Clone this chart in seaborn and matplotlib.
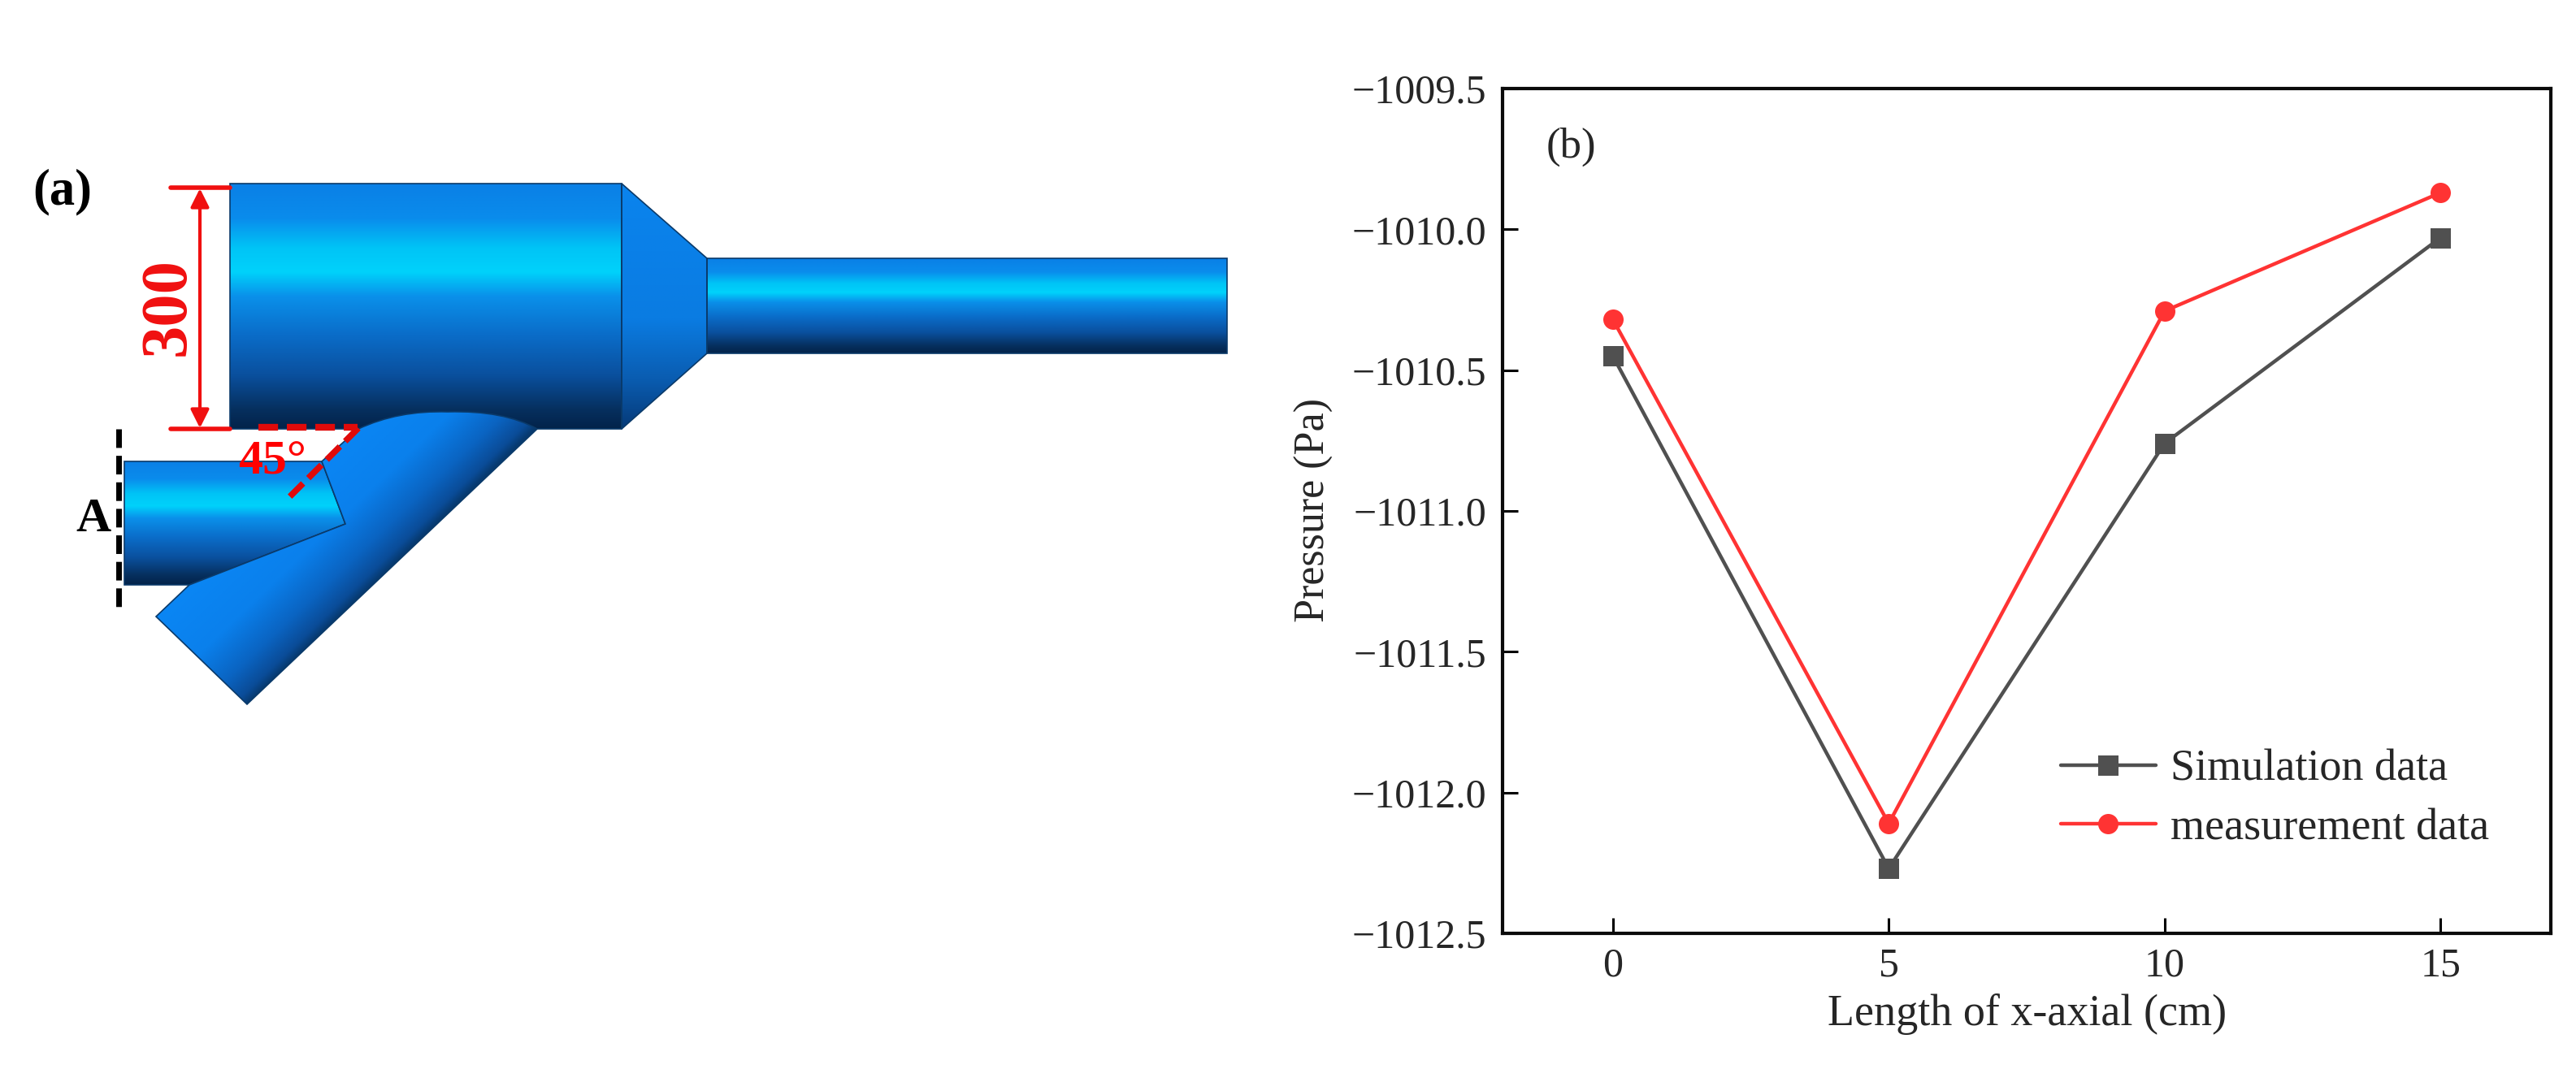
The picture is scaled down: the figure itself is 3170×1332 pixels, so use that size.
import numpy as np
import pandas as pd
import matplotlib
matplotlib.use("Agg")
import matplotlib.pyplot as plt
from matplotlib.colors import LinearSegmentedColormap
from matplotlib.patches import Polygon
from matplotlib.path import Path
from matplotlib.patches import PathPatch
import seaborn as sns

# ---------- data ----------
x_cm = [0, 5, 10, 15]
simulation = [-1010.45, -1012.27, -1010.76, -1010.03]
measurement = [-1010.32, -1012.11, -1010.29, -1009.87]
y_ticks = [-1009.5, -1010.0, -1010.5, -1011.0, -1011.5, -1012.0, -1012.5]
x_ticks = [0, 5, 10, 15]
series_names = ["Simulation data", "measurement data"]

W, H = 3170, 1332
sns.set_theme(style="ticks")
plt.rcParams['font.family'] = ['Liberation Serif', 'DejaVu Serif']
plt.rcParams['axes.unicode_minus'] = True

fig = plt.figure(figsize=(W / 100, H / 100), dpi=100, facecolor="white")

# ---------- panel (a): schematic in pixel space ----------
bg = fig.add_axes([0, 0, 1, 1])
bg.set_xlim(0, W)
bg.set_ylim(H, 0)
bg.axis("off")

cyl = LinearSegmentedColormap.from_list("cyl", [
    (0.00, "#0a80e6"), (0.14, "#0a8cec"), (0.26, "#00c4f6"), (0.36, "#00d2fb"),
    (0.46, "#0a90ea"), (0.62, "#0a6cc8"), (0.78, "#0a509e"), (0.92, "#06305f"),
    (1.00, "#03234a")])


def vgrad(verts, y0, y1, cmap=cyl, edge="#0a3a6a", z=2):
    x = [v[0] for v in verts]
    g = np.linspace(0, 1, 256)[:, None]
    im = bg.imshow(g, extent=(min(x), max(x), y1, y0), cmap=cmap, aspect="auto", zorder=z,
                   interpolation="bilinear")
    p = Polygon(verts, closed=True, transform=bg.transData, fc="none", ec=edge, lw=1.2, zorder=z + 0.1)
    bg.add_patch(p)
    im.set_clip_path(p)


# outlet tube, large cylinder, cone
vgrad([(870, 318), (1510, 318), (1510, 435), (870, 435)], 318, 435)
vgrad([(283, 226), (765, 226), (765, 528), (283, 528)], 226, 528)
cone = LinearSegmentedColormap.from_list("cone", [
    (0, "#0a84ee"), (0.55, "#0a7ce2"), (0.8, "#0a5cb0"), (1, "#063a78")])
vgrad([(765, 226), (870, 318), (870, 435), (765, 528)], 226, 528, cmap=cone)

# inlet tube
vgrad([(153, 568), (396, 568), (425, 645), (233, 720), (153, 720)], 568, 720, z=3)

# slanted pipe with a rounded shoulder
codes = [Path.MOVETO, Path.LINETO, Path.LINETO, Path.CURVE3, Path.CURVE3, Path.CURVE3, Path.CURVE3,
         Path.LINETO, Path.LINETO, Path.LINETO, Path.CLOSEPOLY]
pts = [(192, 759), (304, 867), (661, 528), (620, 505), (551, 507), (490, 505), (441, 528),
       (396, 568), (425, 645), (233, 720), (192, 759)]
pipe_path = Path(pts, codes)
pipe_cm = LinearSegmentedColormap.from_list("pipe", [
    (0, "#0a86f4"), (0.45, "#0a80ec"), (0.75, "#0a64c2"), (0.93, "#0a4c98"), (1, "#073a70")])
xx, yy = np.meshgrid(np.linspace(190, 665, 300), np.linspace(500, 870, 300))
d = ((xx - 192) * 0.69 + (yy - 759) * 0.72) / 155
pim = bg.imshow(d, extent=(190, 665, 870, 500), origin="upper", cmap=pipe_cm, vmin=0, vmax=1,
                aspect="auto", zorder=4, interpolation="bilinear")
pp = PathPatch(pipe_path, transform=bg.transData, fc="none", ec="#0a3a6a", lw=1.2, zorder=4.1)
bg.add_patch(pp)
pim.set_clip_path(pp)
bg.set_xlim(0, W)
bg.set_ylim(H, 0)

# annotations
RED = "#f01010"
bg.plot([210, 283], [231, 231], color=RED, lw=4, zorder=6)
bg.plot([210, 283], [528, 528], color=RED, lw=4, zorder=6)
bg.annotate("", xy=(246, 232), xytext=(246, 527), zorder=6,
            arrowprops=dict(arrowstyle="<|-|>", color=RED, lw=3, mutation_scale=34, shrinkA=0, shrinkB=0))
bg.text(207, 378, "300", color=RED, fontsize=58, fontweight="bold", rotation=90, ha="center", va="center", zorder=6)
bg.plot([318, 440], [526, 526], color="#e00a0a", lw=6, ls=(0, (2.9, 1.3)), zorder=6)
bg.plot([441, 354], [527, 614], color="#e00a0a", lw=5.5, ls=(0, (3.0, 1.2)), zorder=6)
bg.text(335, 570, "45°", color="#ff0000", fontsize=43, fontweight="bold", ha="center", va="center", zorder=6)
bg.plot([146, 146], [528, 747], color="black", lw=5, ls=(0, (3.3, 1.4)), zorder=6)
bg.text(115, 640, "A", color="black", fontsize=43, fontweight="bold", ha="center", va="center", zorder=6)
bg.text(77, 236, "(a)", color="black", fontsize=45, fontweight="bold", ha="center", va="center", zorder=6)

# ---------- panel (b): line chart ----------
L, R, T, B = 1849, 3139, 109, 1149
ax = fig.add_axes([L / W, 1 - B / H, (R - L) / W, (B - T) / H], facecolor="white")
df = pd.DataFrame({"x": x_cm * 2, "y": simulation + measurement,
                   "series": [series_names[0]] * 4 + [series_names[1]] * 4})
sns.lineplot(data=df, x="x", y="y", hue="series", style="series", ax=ax,
             palette=["#505050", "#ff3333"], dashes=False, markers=["s", "o"],
             markersize=18, linewidth=3.2, markeredgewidth=0, legend="full")
ax.set_xlim(-2, 17)
ax.set_ylim(-1012.5, -1009.5)
ax.set_xticks(x_ticks)
ax.set_yticks(y_ticks)
ax.set_yticklabels([f"\u2212{abs(v):.1f}" for v in y_ticks])
ax.tick_params(axis="both", labelsize=36, length=14, width=2.2, color="black", direction="in")
ax.tick_params(axis="x", pad=12)
ax.tick_params(axis="y", pad=14)
for s in ax.spines.values():
    s.set_linewidth(3)
    s.set_color("#0a0a0a")
ax.set_xlabel("Length of x-axial (cm)", fontsize=39)
ax.set_ylabel("Pressure (Pa)", fontsize=37.5)
ax.xaxis.set_label_coords((2495 - L) / (R - L), (B - 1249) / (B - T))
ax.yaxis.set_label_coords((1617 - L) / (R - L), (B - 628) / (B - T))
ax.xaxis.label.set_va("center")
ax.yaxis.label.set_va("center")
ax.text(1903, 181, "(b)", fontsize=38, transform=bg.transData, ha="left", va="center", zorder=10)
leg = ax.legend(loc="lower right", bbox_to_anchor=(0.941, 0.10), frameon=False, fontsize=39,
                handlelength=2.16, labelspacing=0.4, handletextpad=0.33, borderpad=0, borderaxespad=0)

fig.savefig("out.png", dpi=100, facecolor="white")
